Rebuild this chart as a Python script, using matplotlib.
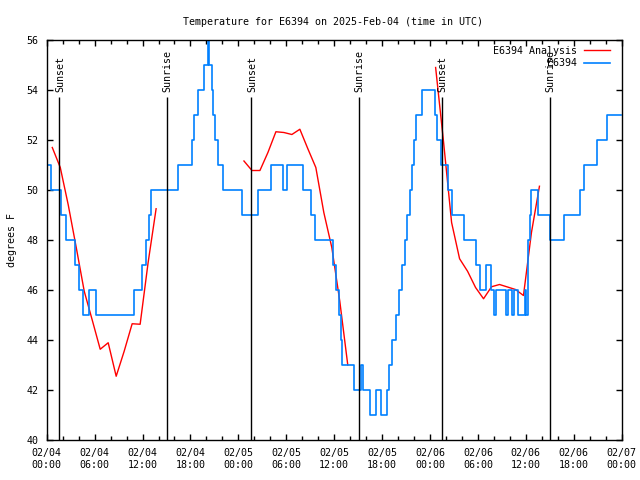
import numpy as np
import matplotlib
matplotlib.use('Agg')
from matplotlib import pyplot as plt
from matplotlib.ticker import MultipleLocator

plt.rcParams['font.family'] = 'DejaVu Sans Mono'
plt.rcParams['font.size'] = 7.2

# hours after 2025-02-04 00:00 UTC
obs_hours = [0.1, 0.55, 1.75, 2.4, 3.5, 4.05, 4.6, 5.3, 6.15, 10.9, 11.95, 12.45, 12.8, 13.1,
             16.4, 18.2, 18.45, 18.95, 19.75, 20.15, 20.35, 20.65, 20.85, 21.05, 21.5, 22.1,
             24.4, 26.5, 28.1, 29.6, 30.1, 32.1, 33.1, 33.6, 35.8, 36.2, 36.6, 36.8, 37.0,
             38.5, 39.35, 39.55, 40.5, 41.25, 41.8, 42.6, 42.9, 43.3, 43.7, 44.1, 44.5, 44.85,
             45.15, 45.45, 45.8, 45.95, 46.2, 47.05, 48.65, 48.9, 49.35, 50.25, 50.7, 52.3,
             53.8, 54.25, 55.05, 55.6, 55.95, 56.3, 57.5, 57.75, 58.3, 58.55, 59.0, 59.85,
             60.05, 60.3, 60.5, 60.65, 61.55, 63.05, 64.8, 66.8, 67.25, 68.85, 70.1, 71.9]
obs_temp = [51, 50, 49, 48, 47, 46, 45, 46, 45, 46, 47, 48, 49, 50,
            51, 52, 53, 54, 55, 56, 55, 54, 53, 52, 51, 50,
            49, 50, 51, 50, 51, 50, 49, 48, 47, 46, 45, 44, 43,
            42, 43, 42, 41, 42, 41, 42, 43, 44, 45, 46, 47, 48,
            49, 50, 51, 52, 53, 54, 53, 52, 51, 50, 49, 48,
            47, 46, 47, 46, 45, 46, 45, 46, 45, 46, 45, 46,
            45, 48, 49, 50, 49, 48, 49, 50, 51, 52, 53, 53]

ana1_hours = [0.7, 1.7, 2.7, 3.7, 4.7, 5.7, 6.7, 7.7, 8.7, 9.7, 10.7, 11.7, 12.7, 13.7]
ana1_temp = [51.7, 50.9, 49.4, 47.7, 45.95, 44.8, 43.63, 43.89, 42.55, 43.55, 44.65, 44.63, 47.1, 49.25]
ana2_hours = [24.7, 25.7, 26.7, 27.7, 28.7, 29.7, 30.7, 31.7, 32.7, 33.7, 34.7, 35.7, 36.7, 37.7]
ana2_temp = [51.16, 50.78, 50.78, 51.5, 52.33, 52.3, 52.22, 52.43, 51.65, 50.9, 49.1, 47.7, 45.55, 43.0]
ana3_hours = [48.7, 49.7, 50.7, 51.7, 52.7, 53.7, 54.7, 55.7, 56.7, 57.7, 58.7, 59.7, 60.7, 61.7]
ana3_temp = [54.9, 51.9, 48.7, 47.25, 46.75, 46.1, 45.65, 46.13, 46.22, 46.12, 46.02, 45.78, 48.3, 50.15]

sun_hours = [1.55, 15.05, 25.6, 39.1, 49.5, 63.0]
sun_events = ['Sunset', 'Sunrise', 'Sunset', 'Sunrise', 'Sunset', 'Sunrise']

tick_hours = [0, 6, 12, 18, 24, 30, 36, 42, 48, 54, 60, 66, 72]
tick_labels = ['02/04\n00:00', '02/04\n06:00', '02/04\n12:00', '02/04\n18:00',
               '02/05\n00:00', '02/05\n06:00', '02/05\n12:00', '02/05\n18:00',
               '02/06\n00:00', '02/06\n06:00', '02/06\n12:00', '02/06\n18:00',
               '02/07\n00:00']

fig = plt.figure(figsize=(6.4, 4.8), dpi=100)
ax = fig.add_axes([46.7 / 640, 40 / 480, 575 / 640, 400 / 480])

red = '#ff0000'
blue = '#0080ff'

ax.plot(ana1_hours, ana1_temp, color=red, lw=1.0, label='E6394 Analysis')
ax.plot(ana2_hours, ana2_temp, color=red, lw=1.0)
ax.plot(ana3_hours, ana3_temp, color=red, lw=1.0)
ax.step(obs_hours, obs_temp, where='post', color=blue, lw=1.2, label='E6394')

# sunrise / sunset markers
ax.vlines(sun_hours, 40, 53.7, color='black', lw=1.0)
for h, name in zip(sun_hours, sun_events):
    ax.text(h + 0.1, 53.9, name, rotation=90, ha='center', va='bottom')

ax.set_xlim(0, 72)
ax.set_ylim(40, 56)
ax.set_xticks(tick_hours)
ax.set_xticklabels(tick_labels)
ax.xaxis.set_minor_locator(MultipleLocator(2))
ax.yaxis.set_major_locator(MultipleLocator(2))
ax.tick_params(which='both', direction='in', top=True, right=True)
ax.tick_params(which='major', length=4.5, width=1)
ax.tick_params(which='minor', length=3, width=1)
ax.tick_params(axis='x', pad=6)
ax.tick_params(axis='y', pad=6)
for s in ax.spines.values():
    s.set_linewidth(1)

ax.set_ylabel('degrees F', labelpad=7)
fig.suptitle('Temperature for E6394 on 2025-Feb-04 (time in UTC)', x=0.52, y=0.965, fontsize=7.2)

ax.legend(loc='upper right', bbox_to_anchor=(0.99, 1.0), frameon=False, markerfirst=False,
          handlelength=2.6, handletextpad=0.7, labelspacing=0.25, borderaxespad=0.3, borderpad=0.3)

fig.savefig('out.png', dpi=100)
